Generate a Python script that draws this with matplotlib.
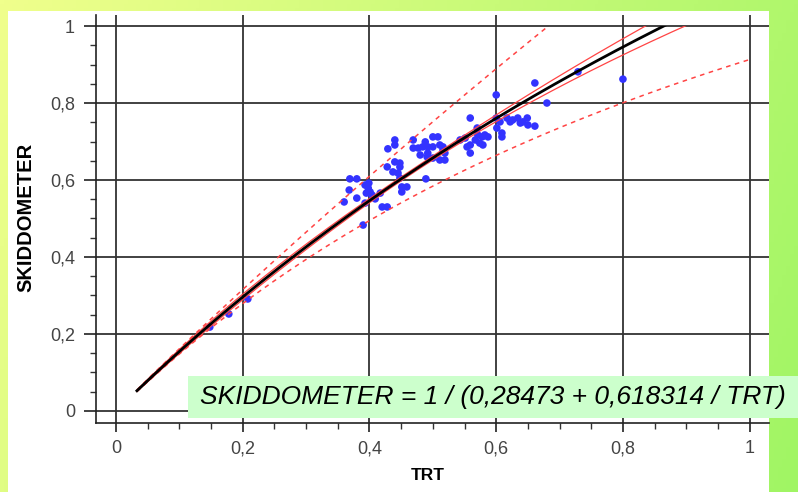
import numpy as np
import matplotlib.pyplot as plt
from matplotlib.patches import Rectangle
from matplotlib.ticker import MultipleLocator, FuncFormatter

plt.rcParams['font.family'] = ['Liberation Sans', 'DejaVu Sans']

# measured points (TRT, SKIDDOMETER)
trt = [0.148, 0.178, 0.208,
       0.360, 0.368, 0.369, 0.380, 0.380, 0.390, 0.393, 0.398, 0.395, 0.399,
       0.401, 0.404, 0.393, 0.417, 0.420, 0.428, 0.409,
       0.428, 0.429, 0.440, 0.440, 0.440, 0.448, 0.437, 0.445, 0.448, 0.451,
       0.459, 0.451, 0.448, 0.489,
       0.469, 0.469, 0.477, 0.484, 0.492, 0.500, 0.511, 0.516, 0.500, 0.508,
       0.480, 0.491, 0.500, 0.511, 0.519, 0.492, 0.519, 0.488, 0.516,
       0.543, 0.551, 0.554, 0.559, 0.559, 0.559, 0.567, 0.570, 0.571, 0.574,
       0.579, 0.578, 0.587, 0.582,
       0.600, 0.600, 0.601, 0.606, 0.609, 0.609, 0.617, 0.626, 0.634, 0.638,
       0.649, 0.650, 0.661, 0.622, 0.642, 0.661, 0.680, 0.729, 0.800]
skid = [0.218, 0.252, 0.291,
        0.543, 0.574, 0.603, 0.603, 0.553, 0.483, 0.587, 0.579, 0.566, 0.592,
        0.569, 0.561, 0.540, 0.566, 0.530, 0.530, 0.551,
        0.634, 0.681, 0.704, 0.691, 0.647, 0.644, 0.621, 0.618, 0.605, 0.582,
        0.582, 0.569, 0.634, 0.603,
        0.704, 0.683, 0.683, 0.686, 0.686, 0.686, 0.691, 0.686, 0.712, 0.712,
        0.665, 0.660, 0.657, 0.652, 0.652, 0.670, 0.670, 0.699, 0.678,
        0.704, 0.709, 0.686, 0.691, 0.670, 0.761, 0.704, 0.735, 0.717, 0.696,
        0.691, 0.712, 0.712, 0.717,
        0.821, 0.761, 0.735, 0.751, 0.722, 0.712, 0.761, 0.756, 0.761, 0.748,
        0.761, 0.743, 0.740, 0.751, 0.751, 0.852, 0.800, 0.881, 0.862]

# fitted model SKIDDOMETER = 1 / (a + b / TRT)
a_coef = 0.28473
b_coef = 0.618314
u_mean = 2.0        # mean of 1/TRT
conf_c0 = 0.012     # confidence band parameters (in 1/y space)
conf_c1 = 0.027
pred_s = 0.19       # residual std (in 1/y space)

fig = plt.figure(figsize=(7.98, 4.92), dpi=100)

# background gradient + white panel
bg = fig.add_axes([0, 0, 1, 1], zorder=-10)
xx, yy = np.meshgrid(np.linspace(0, 1, 200), np.linspace(0, 1, 120))
t = 0.8 * xx + 0.2 * yy
c1 = np.array([240, 255, 140]) / 255
c2 = np.array([160, 245, 100]) / 255
grad = c1[None, None, :] * (1 - t[..., None]) + c2[None, None, :] * t[..., None]
bg.imshow(grad, extent=[0, 1, 0, 1], aspect='auto', origin='upper')
bg.add_patch(Rectangle((8 / 798, 0), 761 / 798, 481 / 492, facecolor='white',
                       edgecolor='none', transform=bg.transAxes))
bg.set_xlim(0, 1)
bg.set_ylim(0, 1)
bg.axis('off')

ax = fig.add_axes([96 / 798, 69 / 492, 673 / 798, 408 / 492])
ax.set_facecolor('none')
ax.set_xlim(-0.0316, 1.0305)
ax.set_ylim(-0.0312, 1.0286)

# curves
x = np.linspace(0.033, 1.0, 400)
u = 1 / x
inv_fit = a_coef + b_coef * u
conf = np.sqrt(conf_c0 ** 2 + conf_c1 ** 2 * (u - u_mean) ** 2)
pred = np.sqrt(pred_s ** 2 + conf ** 2)
clip = Rectangle((-0.1, -0.1), 1.1, 1.1, transform=ax.transData)

ax.scatter(trt, skid, s=30, color='#3333ff', edgecolors='none', zorder=3)
lines = []
lines += ax.plot(x, 1 / (inv_fit - pred), color='#ff4444', lw=1.1, ls=(0, (3, 3)), zorder=4)
lines += ax.plot(x, 1 / (inv_fit + pred), color='#ff4444', lw=1.1, ls=(0, (3, 3)), zorder=4)
lines += ax.plot(x, 1 / (inv_fit - conf), color='#ff4444', lw=0.9, zorder=4)
lines += ax.plot(x, 1 / (inv_fit + conf), color='#ff4444', lw=0.9, zorder=4)
lines += ax.plot(x, 1 / inv_fit, color='black', lw=2.0, zorder=5)
for ln in lines:
    ln.set_clip_path(clip)

# axes styling
for side in ['top', 'right']:
    ax.spines[side].set_visible(False)
for side in ['left', 'bottom']:
    ax.spines[side].set_color('#222222')
    ax.spines[side].set_linewidth(1.2)

ax.xaxis.set_major_locator(MultipleLocator(0.2))
ax.yaxis.set_major_locator(MultipleLocator(0.2))
ax.xaxis.set_minor_locator(MultipleLocator(0.05))
ax.yaxis.set_minor_locator(MultipleLocator(0.05))
fmt = FuncFormatter(lambda v, p: ('%g' % round(v, 2)).replace('.', ','))
ax.xaxis.set_major_formatter(fmt)
ax.yaxis.set_major_formatter(fmt)
ax.grid(True, which='major', color='#333333', lw=1.3, zorder=0)
ax.set_axisbelow(True)
ax.tick_params(axis='y', which='major', direction='out', length=8.6, width=1.3,
               color='#333333', labelsize=13, labelcolor='#444444', pad=6.5)
ax.tick_params(axis='x', which='major', direction='out', length=6.5, width=1.3,
               color='#333333', labelsize=13, labelcolor='#444444', pad=6)
ax.tick_params(which='minor', direction='out', length=4, width=1.0, color='#333333')

fig.text(26 / 798, 1 - 217 / 492, 'SKIDDOMETER', rotation=90, ha='center', va='center',
         fontsize=14.5, fontweight='bold')
fig.text(428 / 798, 1 - 475 / 492, 'TRT', ha='center', va='center',
         fontsize=12.5, fontweight='bold')

# equation box
fig.add_artist(Rectangle((188 / 798, 74 / 492), 610 / 798, 42 / 492, facecolor='#ccffcc',
                         edgecolor='none', transform=fig.transFigure, zorder=5))
fig.text(200 / 798, 1 - 397 / 492, 'SKIDDOMETER = 1 / (0,28473 + 0,618314 / TRT)',
         ha='left', va='center', fontsize=19, fontstyle='italic', zorder=6)

fig.savefig('out.png', dpi=100)
